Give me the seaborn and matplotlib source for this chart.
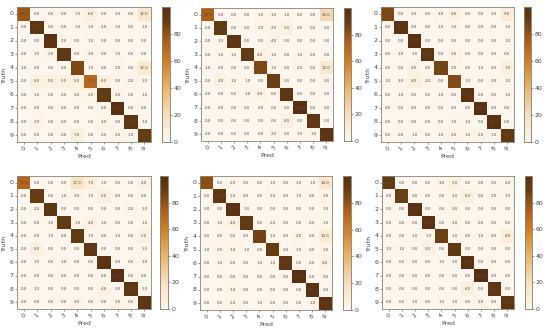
import numpy as np
import seaborn as sns
import matplotlib as mpl
from matplotlib import pyplot as plt
from matplotlib.colors import LinearSegmentedColormap

labels = ['0', '1', '2', '3', '4', '5', '6', '7', '8', '9']

cm1 = [[78, 0, 0, 0, 1, 6, 0, 0, 0, 15],
       [0, 94, 0, 0, 1, 1, 3, 1, 0, 1],
       [0, 0, 97, 2, 0, 1, 0, 0, 0, 0],
       [0, 1, 2, 93, 0, 3, 0, 1, 0, 0],
       [1, 0, 0, 0, 84, 1, 0, 2, 0, 12],
       [0, 6, 5, 5, 5, 70, 6, 0, 2, 1],
       [0, 1, 0, 0, 3, 2, 91, 2, 0, 1],
       [0, 0, 0, 0, 0, 0, 0, 100, 0, 0],
       [0, 2, 0, 0, 0, 0, 3, 0, 94, 1],
       [0, 0, 0, 0, 7, 0, 0, 2, 1, 90]]
cm2 = [[74, 0, 0, 0, 1, 1, 1, 0, 0, 23],
       [0, 91, 0, 0, 2, 2, 5, 0, 0, 0],
       [0, 1, 95, 0, 0, 4, 0, 0, 0, 0],
       [0, 1, 1, 92, 4, 1, 0, 1, 0, 0],
       [1, 0, 0, 0, 84, 1, 0, 2, 0, 12],
       [0, 4, 1, 1, 0, 89, 2, 0, 0, 3],
       [0, 0, 0, 1, 4, 0, 95, 0, 0, 0],
       [0, 0, 0, 0, 0, 0, 0, 100, 0, 0],
       [0, 0, 0, 0, 0, 0, 6, 0, 94, 0],
       [0, 0, 0, 0, 0, 2, 0, 1, 1, 96]]
cm3 = [[84, 0, 0, 0, 3, 4, 0, 0, 0, 9],
       [0, 97, 0, 0, 1, 1, 0, 0, 0, 1],
       [0, 0, 99, 0, 0, 0, 0, 0, 0, 1],
       [0, 1, 1, 95, 0, 3, 0, 0, 0, 0],
       [0, 0, 4, 0, 86, 2, 0, 1, 0, 7],
       [1, 3, 6, 2, 0, 83, 1, 0, 3, 1],
       [0, 1, 0, 0, 1, 0, 97, 0, 0, 1],
       [0, 0, 0, 0, 0, 0, 0, 100, 0, 0],
       [0, 0, 0, 0, 0, 1, 1, 0, 98, 0],
       [0, 0, 1, 0, 1, 2, 1, 2, 1, 92]]
cm4 = [[71, 0, 0, 0, 17, 7, 1, 0, 0, 4],
       [0, 90, 0, 1, 3, 1, 5, 0, 0, 0],
       [0, 2, 95, 0, 0, 0, 0, 0, 2, 1],
       [0, 0, 1, 92, 1, 4, 1, 0, 0, 1],
       [0, 0, 1, 0, 92, 1, 0, 1, 0, 5],
       [0, 6, 0, 0, 0, 93, 0, 0, 0, 1],
       [0, 1, 0, 1, 0, 0, 97, 0, 0, 1],
       [0, 0, 0, 0, 0, 0, 0, 100, 0, 0],
       [0, 1, 0, 0, 0, 0, 4, 0, 94, 1],
       [0, 0, 0, 0, 3, 0, 0, 2, 0, 95]]
cm5 = [[81, 0, 2, 0, 0, 1, 0, 1, 1, 14],
       [0, 93, 1, 0, 0, 2, 0, 1, 0, 3],
       [0, 0, 98, 1, 0, 0, 0, 0, 0, 1],
       [0, 1, 4, 92, 0, 2, 0, 0, 0, 1],
       [0, 0, 0, 0, 87, 1, 0, 2, 0, 10],
       [1, 2, 3, 1, 0, 90, 0, 1, 0, 2],
       [0, 1, 0, 0, 1, 1, 93, 0, 0, 4],
       [0, 0, 0, 0, 0, 0, 0, 100, 0, 0],
       [0, 0, 3, 0, 0, 0, 0, 0, 97, 0],
       [0, 0, 2, 0, 1, 0, 0, 0, 1, 96]]
cm6 = [[90, 0, 0, 0, 3, 5, 0, 0, 0, 2],
       [0, 89, 0, 0, 0, 2, 6, 0, 2, 1],
       [0, 0, 97, 0, 0, 3, 0, 0, 0, 0],
       [0, 0, 0, 97, 0, 3, 0, 0, 0, 0],
       [0, 0, 1, 1, 88, 1, 0, 1, 0, 8],
       [1, 1, 0, 5, 0, 93, 0, 0, 0, 0],
       [0, 0, 0, 0, 1, 1, 98, 0, 0, 0],
       [0, 0, 0, 0, 0, 0, 0, 100, 0, 0],
       [0, 0, 0, 0, 0, 0, 6, 0, 94, 0],
       [0, 0, 1, 0, 1, 1, 0, 2, 0, 95]]

W, H = 550.0, 332.0
# ax box, colorbar box in pixels (left, top, right, bottom)
panels = [(cm1, (17, 7, 151, 142), (162, 7, 170, 142)),
          (cm2, (201, 8, 333, 141), (344, 8, 351, 141)),
          (cm3, (381, 7, 514, 142), (524, 7, 531, 142)),
          (cm4, (17, 176, 151, 309), (160, 176, 168, 309)),
          (cm5, (200, 176, 332, 310), (343, 176, 351, 310)),
          (cm6, (382, 176, 514, 309), (525, 176, 532, 309))]

cmap = LinearSegmentedColormap.from_list(
    'brn', [(0, '#fef6ec'), (0.2, '#f7dfbd'), (0.4, '#e9b56c'), (0.6, '#cf7f24'),
            (0.75, '#ac5c18'), (0.9, '#643c10'), (1, '#5a2e10')])

mpl.rcParams['font.family'] = ['DejaVu Sans']
fig = plt.figure(figsize=(5.5, 3.32), dpi=100)


def box(b):
    return [b[0] / W, 1 - b[3] / H, (b[2] - b[0]) / W, (b[3] - b[1]) / H]


for cm, axb, cb in panels:
    ax = fig.add_axes(box(axb))
    cax = fig.add_axes(box(cb))
    sns.heatmap(np.array(cm, dtype=float), annot=True, fmt='.1f', cmap=cmap, ax=ax, cbar_ax=cax,
                xticklabels=labels, yticklabels=labels, vmin=0, vmax=100,
                annot_kws={'size': 2.8, 'color': '#5a4d42'})
    ax.set_xlabel('Pred', fontsize=4.5, labelpad=1.5, color='#444444')
    ax.set_ylabel('Truth', fontsize=4.5, labelpad=1.5, color='#444444')
    ax.tick_params(axis='x', labelsize=4.5, length=1.5, width=0.4, pad=1, labelrotation=45, colors='#444444')
    ax.tick_params(axis='y', labelsize=4.5, length=1.5, width=0.4, pad=1, labelrotation=0, colors='#444444')
    for s in ax.spines.values():
        s.set_visible(True)
        s.set_linewidth(0.6)
        s.set_color('#8a8478')
    cax.set_yticks([0, 20, 40, 60, 80])
    cax.tick_params(labelsize=4.5, length=1.5, width=0.4, pad=1, colors='#444444')
    for s in cax.spines.values():
        s.set_visible(True)
        s.set_linewidth(0.5)
        s.set_color('#8a8478')

fig.savefig('out.png', dpi=100)
